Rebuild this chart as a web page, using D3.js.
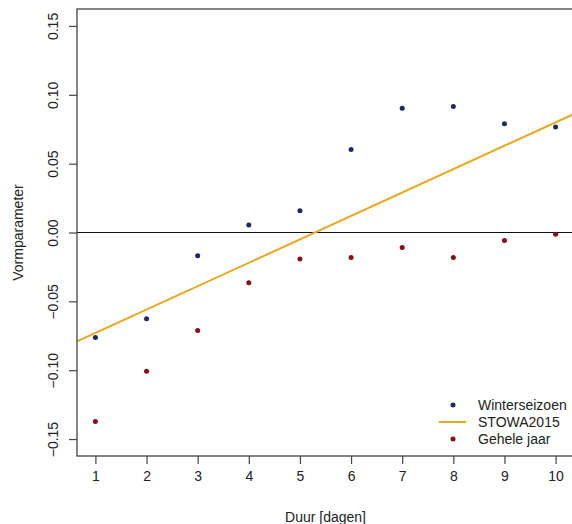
<!DOCTYPE html>
<html><head><meta charset="utf-8">
<script src="https://cdn.jsdelivr.net/npm/d3@7"></script>
<style>body{margin:0;background:#fff}svg{display:block}text{font-family:Arial,"Liberation Sans",sans-serif;fill:#222}</style>
</head><body><svg id="c" width="572" height="524"></svg>
<script>
const durations = [1,2,3,4,5,6,7,8,9,10];
const winterseizoen = [-0.0763,-0.0627,-0.0169,0.0054,0.0158,0.0603,0.0903,0.0915,0.0790,0.0767];
const geheleJaar = [-0.1373,-0.1007,-0.0712,-0.0365,-0.0193,-0.0181,-0.0109,-0.0181,-0.0058,-0.0012];
const stowaX = [1,10];
const stowaY = [-0.0730,0.0800];
const yTicks = [-0.15,-0.10,-0.05,0.00,0.05,0.10,0.15];
const xTicks = [1,2,3,4,5,6,7,8,9,10];
const legendLabels = ["Winterseizoen","STOWA2015","Gehele jaar"];

const colBlue = "#1e2868", colRed = "#8c0b16", colGold = "#eaa91c", axisCol = "#444";
const FS = "14px";
const svg = d3.select("#c");
const L = 77, R = 574, T = 9, B = 456;
const x = d3.scaleLinear().domain([0.64,10.36]).range([L,R]);
const y = d3.scaleLinear().domain([-0.1623,0.1623]).range([B,T]);

svg.append("clipPath").attr("id","pc").append("rect").attr("x",L).attr("y",T).attr("width",R-L).attr("height",B-T);
const plot = svg.append("g").attr("clip-path","url(#pc)");

// zero line
plot.append("line").attr("x1",L).attr("x2",R).attr("y1",y(0)).attr("y2",y(0)).attr("stroke","#111").attr("stroke-width",1);

// STOWA line (abline through two points)
const slope = (stowaY[1]-stowaY[0])/(stowaX[1]-stowaX[0]);
const lineFn = v => stowaY[0] + slope*(v-stowaX[0]);
const [d0,d1] = x.domain();
plot.append("path").attr("d", d3.line().x(d=>x(d)).y(d=>y(lineFn(d)))([d0,d1]))
  .attr("stroke",colGold).attr("stroke-width",2).attr("fill","none");

plot.selectAll("circle.w").data(durations).join("circle").attr("class","w")
  .attr("cx",(d)=>x(d)).attr("cy",(d,i)=>y(winterseizoen[i])).attr("r",2.5).attr("fill",colBlue);
plot.selectAll("circle.g").data(durations).join("circle").attr("class","g")
  .attr("cx",(d)=>x(d)).attr("cy",(d,i)=>y(geheleJaar[i])).attr("r",2.5).attr("fill",colRed);

// box
svg.append("rect").attr("x",L).attr("y",T).attr("width",R-L).attr("height",B-T)
  .attr("fill","none").attr("stroke",axisCol).attr("stroke-width",1.3);

// axes
const xAx = svg.append("g").attr("transform",`translate(0,${B})`)
  .call(d3.axisBottom(x).tickValues(xTicks).tickSize(8).tickPadding(7).tickFormat(d3.format("d")));
xAx.select(".domain").remove();
xAx.selectAll("line").attr("stroke",axisCol).attr("stroke-width",1.2);
xAx.selectAll("text").style("font-size",FS).attr("fill","#222");

const yAx = svg.append("g").attr("transform",`translate(${L},0)`)
  .call(d3.axisLeft(y).tickValues(yTicks).tickSize(8).tickFormat(d3.format(".2f")));
yAx.select(".domain").remove();
yAx.selectAll("line").attr("stroke",axisCol).attr("stroke-width",1.2);
yAx.selectAll("text").style("font-size",FS).attr("fill","#222")
  .attr("x",null).attr("dy",null)
  .attr("text-anchor","middle")
  .attr("transform","translate(-24,0) rotate(-90)")
  .attr("dominant-baseline","central");

// titles
svg.append("text").attr("x",(L+R)/2).attr("y",522).attr("text-anchor","middle").style("font-size",FS).text("Duur [dagen]");
svg.append("text").attr("transform",`translate(23,${(T+B)/2}) rotate(-90)`).attr("text-anchor","middle").style("font-size",FS).text("Vormparameter");

// legend
const lg = svg.append("g");
const rows = [405,422,439];
legendLabels.forEach((lab,i)=>{
  const yy = rows[i];
  if (i===1) lg.append("line").attr("x1",439).attr("x2",466).attr("y1",yy).attr("y2",yy).attr("stroke",colGold).attr("stroke-width",2);
  else lg.append("circle").attr("cx",453).attr("cy",yy).attr("r",2.5).attr("fill",i===0?colBlue:colRed);
  lg.append("text").attr("x",478).attr("y",yy).attr("dominant-baseline","central").style("font-size",FS).text(lab);
});
</script></body></html>
